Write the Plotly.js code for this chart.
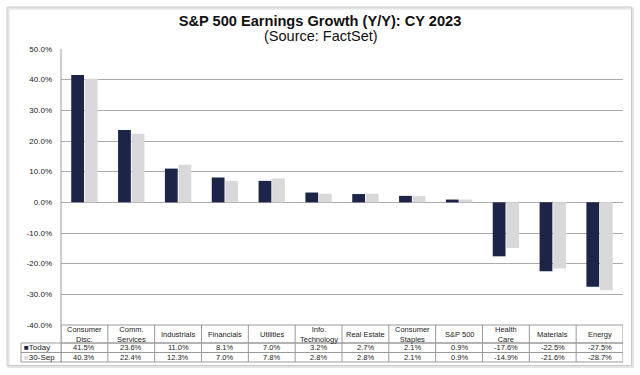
<!DOCTYPE html>
<html>
<head>
<meta charset="utf-8">
<script src="https://cdn.plot.ly/plotly-3.0.1.min.js"></script>
<style>html,body{margin:0;padding:0;background:#fff;}#chart{width:640px;height:375px;}</style>
</head>
<body>
<div id="chart"></div>
<script>
// ---- data ----
const categories = ["Consumer<br>Disc.", "Comm.<br>Services", "Industrials", "Financials", "Utilities", "Info.<br>Technology", "Real Estate", "Consumer<br>Staples", "S&P 500", "Health<br>Care", "Materials", "Energy"];
const seriesNames = ["Today", "30-Sep"];
const today = [41.5, 23.6, 11.0, 8.1, 7.0, 3.2, 2.7, 2.1, 0.9, -17.6, -22.5, -27.5];
const sep30 = [40.3, 22.4, 12.3, 7.0, 7.8, 2.8, 2.8, 2.1, 0.9, -14.9, -21.6, -28.7];
const yTicks = [-40, -30, -20, -10, 0, 10, 20, 30, 40, 50];

// ---- styles ----
const navy = "#1c2548";
const light = "#d9d9d9";
const gridCol = "#acacac";
const tableLine = "#9a9a9a";
const font = "Liberation Sans, Arial, sans-serif";

const W = 640, H = 375;
const mL = 61, mR = 17, mT = 49, mB = 50;
const plotW = W - mL - mR, plotH = H - mT - mB;
const px2py = p => (H - mB - p) / plotH;   // pixel y -> paper y
const px2px = p => (p - mL) / plotW;       // pixel x -> paper x

const xIdx = categories.map((c, i) => i);

const traces = [
  {type: "bar", name: seriesNames[0], x: xIdx, y: today, marker: {color: navy}, hoverinfo: "skip"},
  {type: "bar", name: seriesNames[1], x: xIdx, y: sep30, marker: {color: light}, hoverinfo: "skip"}
];

// table geometry (paper y)
const yHead = 0, yRow1 = px2py(343), yRow2 = px2py(352.5), yBot = px2py(362);
const xLab = px2px(21);

const shapes = [];
// outer frame
shapes.push({type: "rect", xref: "paper", yref: "paper", x0: px2px(8.5), x1: px2px(633), y0: px2py(367), y1: px2py(8.5),
  line: {color: "#e4e4e4", width: 2}, layer: "below"});
shapes.push({type: "rect", xref: "paper", yref: "paper", x0: px2px(7), x1: px2px(631.5), y0: px2py(365.5), y1: px2py(7),
  line: {color: "#c9c9c9", width: 1}, layer: "below"});
// vertical table lines at category boundaries
for (let i = 0; i <= categories.length; i++) {
  shapes.push({type: "line", xref: "x", yref: "paper", x0: i - 0.5, x1: i - 0.5, y0: yHead, y1: yBot,
    line: {color: tableLine, width: 1}});
}
// horizontal lines across category columns
[yHead, yRow1].forEach(y => shapes.push({type: "line", xref: "x", yref: "paper", x0: -0.5, x1: categories.length - 0.5, y0: y, y1: y, line: {color: tableLine, width: 1}}));
// rows extend to label column
[yRow1, yRow2, yBot].forEach(y => shapes.push({type: "line", xref: "paper", yref: "paper", x0: xLab, x1: 1, y0: y, y1: y, line: {color: tableLine, width: 1}}));
shapes.push({type: "line", xref: "paper", yref: "paper", x0: xLab, x1: xLab, y0: yRow1, y1: yBot, line: {color: tableLine, width: 1}});
// left axis line extends down through table
shapes.push({type: "line", xref: "paper", yref: "paper", x0: 0, x1: 0, y0: 1, y1: yBot, line: {color: tableLine, width: 1}});

const annotations = [];
const tfont = {family: font, size: 7.5, color: "#222"};
categories.forEach((c, i) => {
  annotations.push({xref: "x", yref: "paper", x: i, y: (yHead + yRow1) / 2, text: c, showarrow: false,
    xanchor: "center", yanchor: "middle", font: tfont});
  annotations.push({xref: "x", yref: "paper", x: i, y: (yRow1 + yRow2) / 2, text: today[i].toFixed(1) + "%", showarrow: false,
    xanchor: "center", yanchor: "middle", font: tfont});
  annotations.push({xref: "x", yref: "paper", x: i, y: (yRow2 + yBot) / 2, text: sep30[i].toFixed(1) + "%", showarrow: false,
    xanchor: "center", yanchor: "middle", font: tfont});
});
// series labels in table
annotations.push({xref: "paper", yref: "paper", x: xLab + 0.002, y: (yRow1 + yRow2) / 2, xanchor: "left", yanchor: "middle", showarrow: false,
  text: "<span style='color:" + navy + "'>■</span>" + seriesNames[0], font: {family: font, size: 8, color: "#222"}});
annotations.push({xref: "paper", yref: "paper", x: xLab + 0.002, y: (yRow2 + yBot) / 2, xanchor: "left", yanchor: "middle", showarrow: false,
  text: "<span style='color:" + light + "'>■</span>" + seriesNames[1], font: {family: font, size: 8, color: "#222"}});
// subtitle
annotations.push({xref: "paper", yref: "paper", x: px2px(321), y: px2py(36), xanchor: "center", yanchor: "middle", showarrow: false,
  text: "(Source: FactSet)", font: {family: font, size: 14.5, color: "#111"}});

const layout = {
  width: W, height: H,
  margin: {l: mL, r: mR, t: mT, b: mB, pad: 0},
  paper_bgcolor: "#fff", plot_bgcolor: "#fff",
  title: {text: "<b>S&P 500 Earnings Growth (Y/Y): CY 2023</b>", x: 320 / W, xanchor: "center",
    xref: "container", yref: "container", y: 1 - 21 / H, yanchor: "middle",
    font: {family: font, size: 14.6, color: "#111"}},
  showlegend: false,
  barmode: "group", bargap: 0.42, bargroupgap: 0.06,
  xaxis: {range: [-0.5, categories.length - 0.5], showticklabels: false, showgrid: false, zeroline: false, showline: false, ticks: "", fixedrange: true},
  yaxis: {range: [-40, 50], tickvals: yTicks, ticktext: yTicks.map(v => v.toFixed(1) + "%"),
    showgrid: true, gridcolor: gridCol, gridwidth: 1, zeroline: true, zerolinecolor: gridCol, zerolinewidth: 1,
    showline: false, ticks: "", ticklabelstandoff: 8,
    tickfont: {family: font, size: 8, color: "#222"}, fixedrange: true},
  shapes: shapes,
  annotations: annotations
};

Plotly.newPlot("chart", traces, layout, {displayModeBar: false, staticPlot: true});
</script>
</body>
</html>
